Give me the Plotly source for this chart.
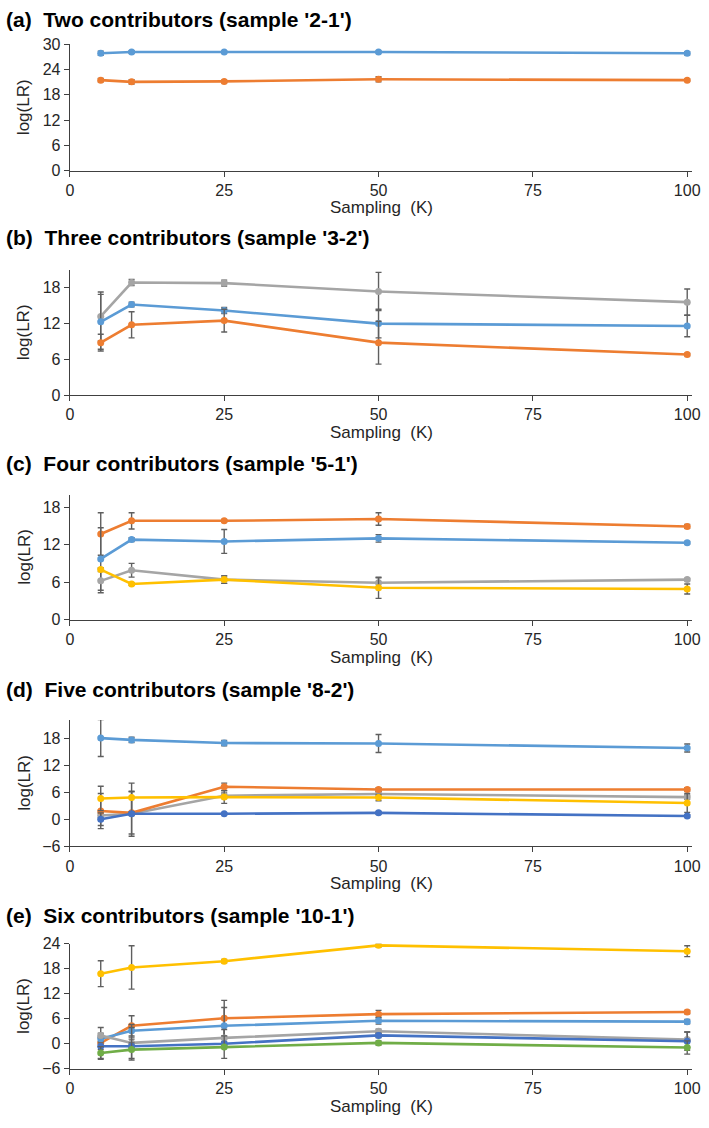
import plotly.graph_objects as go

W, H = 709, 1128

K = [5, 10, 25, 50, 100]
x_ticks = [0, 25, 50, 75, 100]

# (a) Two contributors
a_blue = [27.9, 28.2, 28.2, 28.2, 27.9]
a_blue_err = [0.5, 0.3, 0.2, 0.2, 0.4]
a_orange = [21.5, 21.1, 21.2, 21.7, 21.5]
a_orange_err = [0.4, 0.5, 0.3, 0.6, 0.3]

# (b) Three contributors
b_gray = [13.2, 18.9, 18.8, 17.4, 15.6]
b_gray_err = [4.1, 0.5, 0.5, 3.2, 2.2]
b_blue = [12.3, 15.2, 14.2, 12.0, 11.6]
b_blue_err = [4.6, 0.4, 0.5, 2.4, 1.8]
b_orange = [8.8, 11.8, 12.5, 8.8, 6.8]
b_orange_err = [1.4, 2.2, 1.9, 3.6, 0.2]

# (c) Four contributors
c_orange = [13.7, 15.8, 15.8, 16.1, 14.9]
c_orange_err = [3.4, 1.3, 0.2, 1.0, 0.3]
c_blue = [9.7, 12.8, 12.5, 13.0, 12.3]
c_blue_err = [5.0, 0.3, 1.9, 0.6, 0.2]
c_gray = [6.2, 7.9, 6.4, 5.9, 6.4]
c_gray_err = [1.9, 1.1, 0.6, 0.8, 0.2]
c_yellow = [8.0, 5.7, 6.4, 5.1, 4.9]
c_yellow_err = [0.3, 0.2, 0.6, 1.7, 0.8]

# (d) Five contributors
d_lblue = [18.0, 17.6, 16.9, 16.8, 15.8]
d_lblue_err = [4.1, 0.6, 0.6, 2.0, 0.9]
d_orange = [1.8, 1.4, 7.2, 6.6, 6.6]
d_orange_err = [3.9, 4.7, 0.8, 0.4, 0.4]
d_gray = [0.8, 1.2, 5.2, 5.6, 4.9]
d_gray_err = [0.5, 5.0, 0.6, 0.5, 0.5]
d_yellow = [4.6, 4.8, 4.9, 4.8, 3.6]
d_yellow_err = [2.7, 3.2, 1.4, 0.7, 2.1]
d_dblue = [0.0, 1.2, 1.2, 1.4, 0.7]
d_dblue_err = [1.4, 0.3, 0.2, 0.3, 0.3]

# (e) Six contributors
e_yellow = [16.8, 18.3, 19.8, 23.6, 22.2]
e_yellow_err = [3.1, 5.2, 0.4, 0.4, 1.3]
e_orange = [0.2, 4.3, 6.1, 7.1, 7.6]
e_orange_err = [3.7, 2.4, 4.3, 0.9, 0.4]
e_lblue = [1.2, 3.1, 4.3, 5.5, 5.3]
e_lblue_err = [0.6, 1.5, 4.4, 0.8, 0.5]
e_gray = [2.0, 0.2, 1.4, 3.0, 1.0]
e_gray_err = [0.5, 3.7, 2.0, 0.5, 1.8]
e_dblue = [-0.6, -0.6, 0.0, 2.0, 0.6]
e_dblue_err = [0.8, 0.8, 0.5, 0.5, 2.2]
e_green = [-2.2, -1.4, -0.8, 0.2, -0.9]
e_green_err = [1.5, 2.5, 2.7, 0.5, 1.6]

titles = [
    "(a)\u00a0 Two contributors (sample '2-1')",
    "(b)\u00a0 Three contributors (sample '3-2')",
    "(c)\u00a0 Four contributors (sample '5-1')",
    "(d)\u00a0 Five contributors (sample '8-2')",
    "(e)\u00a0 Six contributors (sample '10-1')",
]

LBLUE, ORANGE, GRAY, YELLOW, DBLUE, GREEN = "#5B9BD5", "#ED7D31", "#A5A5A5", "#FFC000", "#4472C4", "#70AD47"

panels = [
    dict(series=[(a_blue, a_blue_err, LBLUE), (a_orange, a_orange_err, ORANGE)],
         yrange=[0, 30], top=37, bottom=165, title_y=12),
    dict(series=[(b_gray, b_gray_err, GRAY), (b_blue, b_blue_err, LBLUE), (b_orange, b_orange_err, ORANGE)],
         yrange=[0, 21], top=266, bottom=393, title_y=233),
    dict(series=[(c_orange, c_orange_err, ORANGE), (c_blue, c_blue_err, LBLUE),
                 (c_gray, c_gray_err, GRAY), (c_yellow, c_yellow_err, YELLOW)],
         yrange=[0, 20], top=494, bottom=621, title_y=462),
    dict(series=[(d_lblue, d_lblue_err, LBLUE), (d_gray, d_gray_err, GRAY), (d_orange, d_orange_err, ORANGE),
                 (d_yellow, d_yellow_err, YELLOW), (d_dblue, d_dblue_err, DBLUE)],
         yrange=[-6, 22], top=723, bottom=851, title_y=692),
    dict(series=[(e_yellow, e_yellow_err, YELLOW), (e_orange, e_orange_err, ORANGE), (e_lblue, e_lblue_err, LBLUE),
                 (e_gray, e_gray_err, GRAY), (e_dblue, e_dblue_err, DBLUE), (e_green, e_green_err, GREEN)],
         yrange=[-6, 24], top=950, bottom=1077, title_y=921),
]

FONT = "Liberation Sans, Arial, sans-serif"
AX = "#404040"
X0, X1 = 67, 700

fig = go.Figure()
annotations = []
layout = {}

for i, p in enumerate(panels, start=1):
    xa = "x" if i == 1 else f"x{i}"
    ya = "y" if i == 1 else f"y{i}"
    for vals, err, col in p["series"]:
        fig.add_trace(go.Scatter(
            x=K, y=vals, mode="lines+markers", xaxis=xa, yaxis=ya,
            line=dict(color=col, width=2.6),
            marker=dict(color=col, size=7),
            error_y=dict(type="data", array=err, visible=True, color="#5f5f5f", thickness=1.4, width=3),
            showlegend=False, hoverinfo="skip",
        ))
    layout[f"xaxis{'' if i == 1 else i}"] = dict(
        domain=[X0 / W, X1 / W], anchor=ya, range=[0, 100.8],
        tickvals=x_ticks, ticks="outside", ticklen=5, tickwidth=1.2, tickcolor=AX,
        showline=True, linecolor=AX, linewidth=1.3, showgrid=False, zeroline=False,
        tickfont=dict(family=FONT, size=16, color="#262626"), fixedrange=True,
    )
    layout[f"yaxis{'' if i == 1 else i}"] = dict(
        domain=[1 - p["bottom"] / H, 1 - p["top"] / H], anchor=xa, range=p["yrange"],
        dtick=6, tick0=0, ticks="outside", ticklen=5, tickwidth=1.2, tickcolor=AX,
        showline=True, linecolor=AX, linewidth=1.3, showgrid=False, zeroline=False,
        tickfont=dict(family=FONT, size=16, color="#262626"), fixedrange=True,
    )
    annotations.append(dict(
        text=titles[i - 1], x=0, y=1 - p["title_y"] / H, xref="paper", yref="paper",
        xanchor="left", yanchor="middle", showarrow=False,
        font=dict(family=FONT, size=21, color="#000000", weight="bold"),
    ))
    annotations.append(dict(
        text="Sampling\u00a0 (K)", x=(X0 + X1) / 2 / W, y=1 - (p["bottom"] + 38) / H,
        xref="paper", yref="paper", xanchor="center", yanchor="middle", showarrow=False,
        font=dict(family=FONT, size=17, color="#262626"),
    ))
    annotations.append(dict(
        text="log(LR)", x=20 / W, y=1 - (p["top"] + p["bottom"]) / 2 / H,
        xref="paper", yref="paper", xanchor="center", yanchor="middle", showarrow=False,
        textangle=-90, font=dict(family=FONT, size=17, color="#262626"),
    ))

fig.update_layout(
    width=W, height=H, margin=dict(l=0, r=0, t=0, b=0),
    paper_bgcolor="white", plot_bgcolor="white",
    annotations=annotations, **layout,
)

fig.write_html("out.html", config={"displayModeBar": False},
               post_script="document.body.style.margin='0px';document.body.style.overflow='hidden';")
